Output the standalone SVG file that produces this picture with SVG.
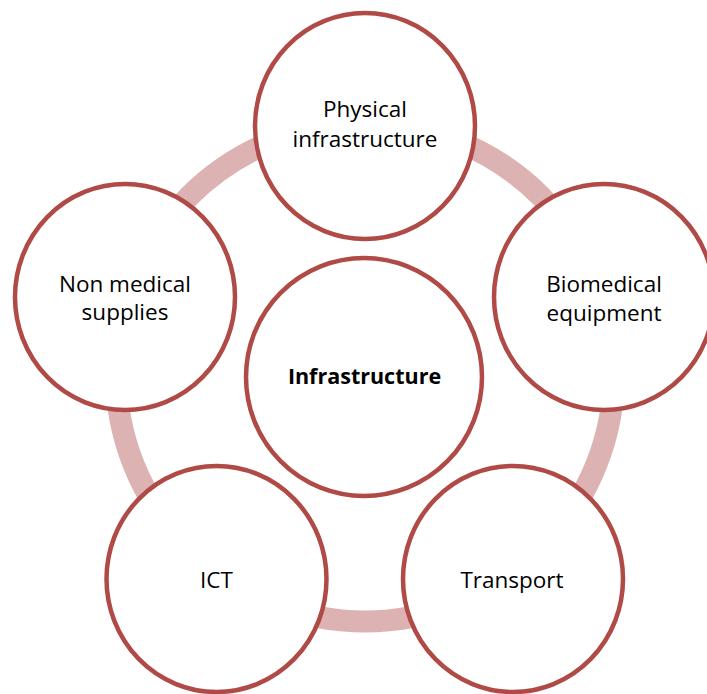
<svg xmlns="http://www.w3.org/2000/svg" width="707" height="694" viewBox="0 0 707 694">
<style>
.node { fill: #FFFFFF; stroke: #B04A46; stroke-width: 4.5; }
.ring { fill: none; stroke: #DCB2B2; stroke-width: 22; }
.lbl { font-family: "Open Sans", "Noto Sans", "Liberation Sans", sans-serif; font-size: 22.5px; fill: #000000; text-anchor: middle; }
.bold { font-weight: bold; font-size: 21.5px; }
</style>
<rect width="707" height="694" fill="#FFFFFF"/>
<g id="connectors">
<circle class="ring" cx="365" cy="372.5" r="249"/>
</g>
<g id="node-physical">
<ellipse class="node" cx="365" cy="126" rx="110" ry="113"/>
<text class="lbl" x="365" y="117">Physical</text>
<text class="lbl" x="365" y="147">infrastructure</text>
</g>
<g id="node-nonmedical">
<ellipse class="node" cx="125" cy="297" rx="110" ry="113"/>
<text class="lbl" x="125" y="292">Non medical</text>
<text class="lbl" x="125" y="320">supplies</text>
</g>
<g id="node-biomedical">
<ellipse class="node" cx="604" cy="297" rx="110" ry="113"/>
<text class="lbl" x="604" y="292">Biomedical</text>
<text class="lbl" x="604" y="321">equipment</text>
</g>
<g id="node-center">
<ellipse class="node" cx="364" cy="377" rx="118" ry="119"/>
<text class="lbl bold" x="364.5" y="384">Infrastructure</text>
</g>
<g id="node-ict">
<ellipse class="node" cx="216.5" cy="579" rx="110" ry="113"/>
<text class="lbl" x="216.5" y="588">ICT</text>
</g>
<g id="node-transport">
<ellipse class="node" cx="513" cy="579" rx="110" ry="113"/>
<text class="lbl" x="512" y="588">Transport</text>
</g>
</svg>
